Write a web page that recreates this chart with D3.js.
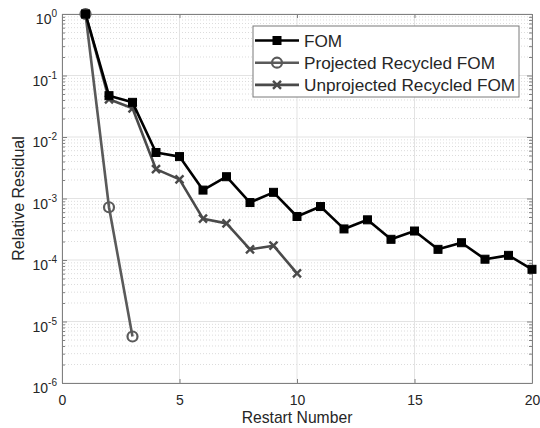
<!DOCTYPE html>
<html>
<head>
<meta charset="utf-8">
<style>
  body { margin: 0; background: #fff; }
  text { font-family: "Liberation Sans", Arial, sans-serif; fill: #262626; }
</style>
</head>
<body>
<script src="https://d3js.org/d3.v7.min.js"></script>
<script>
  // restart numbers and relative residuals
  var fomX = [1,2,3,4,5,6,7,8,9,10,11,12,13,14,15,16,17,18,19,20];
  var fomY = [1, 0.047, 0.0366, 0.0056, 0.0048, 0.00137, 0.00226, 0.00086, 0.00126, 0.00051,
              0.00074, 0.00032, 0.00045, 0.000217, 0.000296, 0.000149, 0.000191, 0.000103, 0.000119, 0.0000706];
  var projX = [1, 2, 3];
  var projY = [1, 0.00072, 0.0000057];
  var unprojX = [1,2,3,4,5,6,7,8,9,10];
  var unprojY = [1, 0.041, 0.0293, 0.003, 0.00205, 0.00047, 0.000394, 0.000149, 0.000171, 0.0000607];

  var xTicks = [0, 5, 10, 15, 20];
  var yExps = [0, -1, -2, -3, -4, -5, -6];
  var legendNames = ["FOM", "Projected Recycled FOM", "Unprojected Recycled FOM"];

  var W = 540, H = 428;
  var m = {left: 62, right: 8, top: 14, bottom: 45};

  var svg = d3.select("body").append("svg")
    .attr("width", W)
    .attr("height", H);

  var x = d3.scaleLinear().domain([0, 20]).range([m.left, W - m.right]);
  var y = d3.scaleLog().domain([1e-6, 1]).range([H - m.bottom, m.top]);

  // minor grid (dotted)
  var minors = [];
  yExps.forEach(e => { if (e < 0) for (let k = 2; k <= 9; k++) minors.push(k * Math.pow(10, e)); });
  svg.append("g").selectAll("line").data(minors).enter().append("line")
    .attr("x1", m.left).attr("x2", W - m.right)
    .attr("y1", d => y(d)).attr("y2", d => y(d))
    .attr("stroke", "#dcdcdc").attr("stroke-width", 1)
    .attr("stroke-dasharray", "1,2");

  // major grid
  svg.append("g").selectAll("line").data(yExps).enter().append("line")
    .attr("x1", m.left).attr("x2", W - m.right)
    .attr("y1", d => y(Math.pow(10, d))).attr("y2", d => y(Math.pow(10, d)))
    .attr("stroke", "#e3e3e3");
  svg.append("g").selectAll("line").data(xTicks).enter().append("line")
    .attr("x1", d => x(d)).attr("x2", d => x(d))
    .attr("y1", m.top).attr("y2", H - m.bottom)
    .attr("stroke", "#e3e3e3");

  // axes
  var axisColor = "#808080";
  var gx = svg.append("g").attr("transform", `translate(0,${H - m.bottom})`)
    .call(d3.axisBottom(x).tickValues(xTicks).tickSizeInner(-4).tickSizeOuter(0).tickPadding(12));
  var gxTop = svg.append("g").attr("transform", `translate(0,${m.top})`)
    .call(d3.axisTop(x).tickValues(xTicks).tickSizeInner(-4).tickSizeOuter(0).tickFormat(""));
  var allY = yExps.map(e => Math.pow(10, e)).concat(minors);
  var gy = svg.append("g").attr("transform", `translate(${m.left},0)`)
    .call(d3.axisLeft(y).tickValues(allY).tickSizeInner(-4).tickSizeOuter(0).tickFormat(""));
  var gyR = svg.append("g").attr("transform", `translate(${W - m.right},0)`)
    .call(d3.axisRight(y).tickValues(allY).tickSizeInner(-4).tickSizeOuter(0).tickFormat(""));
  [gx, gxTop, gy, gyR].forEach(g => {
    g.select(".domain").attr("stroke", axisColor);
    g.selectAll(".tick line").attr("stroke", axisColor);
  });
  gy.selectAll(".tick line").attr("x2", d => (Math.abs(Math.log10(d) % 1) < 1e-9) ? 5 : 3);
  gyR.selectAll(".tick line").attr("x2", d => (Math.abs(Math.log10(d) % 1) < 1e-9) ? -5 : -3);
  gx.selectAll(".tick text").attr("font-size", 14).style("font-family", "Liberation Sans, Arial, sans-serif").attr("fill", "#262626");

  // y tick labels with superscripts
  var yl = svg.append("g").selectAll("text").data(yExps).enter().append("text")
    .attr("x", m.left - 5)
    .attr("y", d => y(Math.pow(10, d)) + 10)
    .attr("text-anchor", "end")
    .attr("font-size", 14);
  yl.append("tspan").text("10");
  yl.append("tspan").attr("dy", -7).attr("font-size", 10).text(d => d);

  // axis titles
  svg.append("text")
    .attr("x", (m.left + W - m.right) / 2).attr("y", H - 5)
    .attr("text-anchor", "middle").attr("font-size", 15.7)
    .text("Restart Number");
  svg.append("text")
    .attr("transform", `translate(24,${(m.top + H - m.bottom) / 2}) rotate(-90)`)
    .attr("text-anchor", "middle").attr("font-size", 16)
    .text("Relative Residual");

  var line = d3.line().x(d => x(d[0])).y(d => y(d[1]));
  var series = [
    {pts: d3.zip(projX, projY), color: "#5a5a5a", marker: "circle"},
    {pts: d3.zip(unprojX, unprojY), color: "#4a4a4a", marker: "cross"},
    {pts: d3.zip(fomX, fomY), color: "#000000", marker: "square"}
  ];

  function drawMarker(g, kind, color) {
    if (kind === "square") {
      g.append("rect").attr("x", -4).attr("y", -4).attr("width", 8).attr("height", 8)
        .attr("fill", color).attr("stroke", color).attr("stroke-width", 1);
    } else if (kind === "circle") {
      g.append("circle").attr("r", 5).attr("fill", "none")
        .attr("stroke", color).attr("stroke-width", 2.2);
    } else {
      g.append("path").attr("d", "M-4,-4L4,4M-4,4L4,-4")
        .attr("stroke", color).attr("stroke-width", 2.4);
    }
  }

  series.forEach(s => {
    svg.append("path").datum(s.pts)
      .attr("d", line).attr("fill", "none")
      .attr("stroke", s.color).attr("stroke-width", 2.6)
      .attr("stroke-linejoin", "round");
    svg.append("g").selectAll("g").data(s.pts).enter().append("g")
      .attr("transform", d => `translate(${x(d[0])},${y(d[1])})`)
      .each(function() { drawMarker(d3.select(this), s.marker, s.color); });
  });

  // legend
  var lg = svg.append("g").attr("transform", "translate(253,26)");
  lg.append("rect").attr("width", 266).attr("height", 71)
    .attr("fill", "#fff").attr("stroke", "#7a7a7a").attr("stroke-width", 1);
  var legendSeries = [series[2], series[0], series[1]];
  legendNames.forEach((name, i) => {
    var row = lg.append("g").attr("transform", `translate(0,${14.5 + i * 22.2})`);
    row.append("line").attr("x1", 2).attr("x2", 46).attr("y1", 0).attr("y2", 0)
      .attr("stroke", legendSeries[i].color).attr("stroke-width", 2.6);
    drawMarker(row.append("g").attr("transform", "translate(24,0)"), legendSeries[i].marker, legendSeries[i].color);
    row.append("text").attr("x", 51).attr("y", 6).attr("font-size", 17.2).text(name);
  });
</script>
</body>
</html>
